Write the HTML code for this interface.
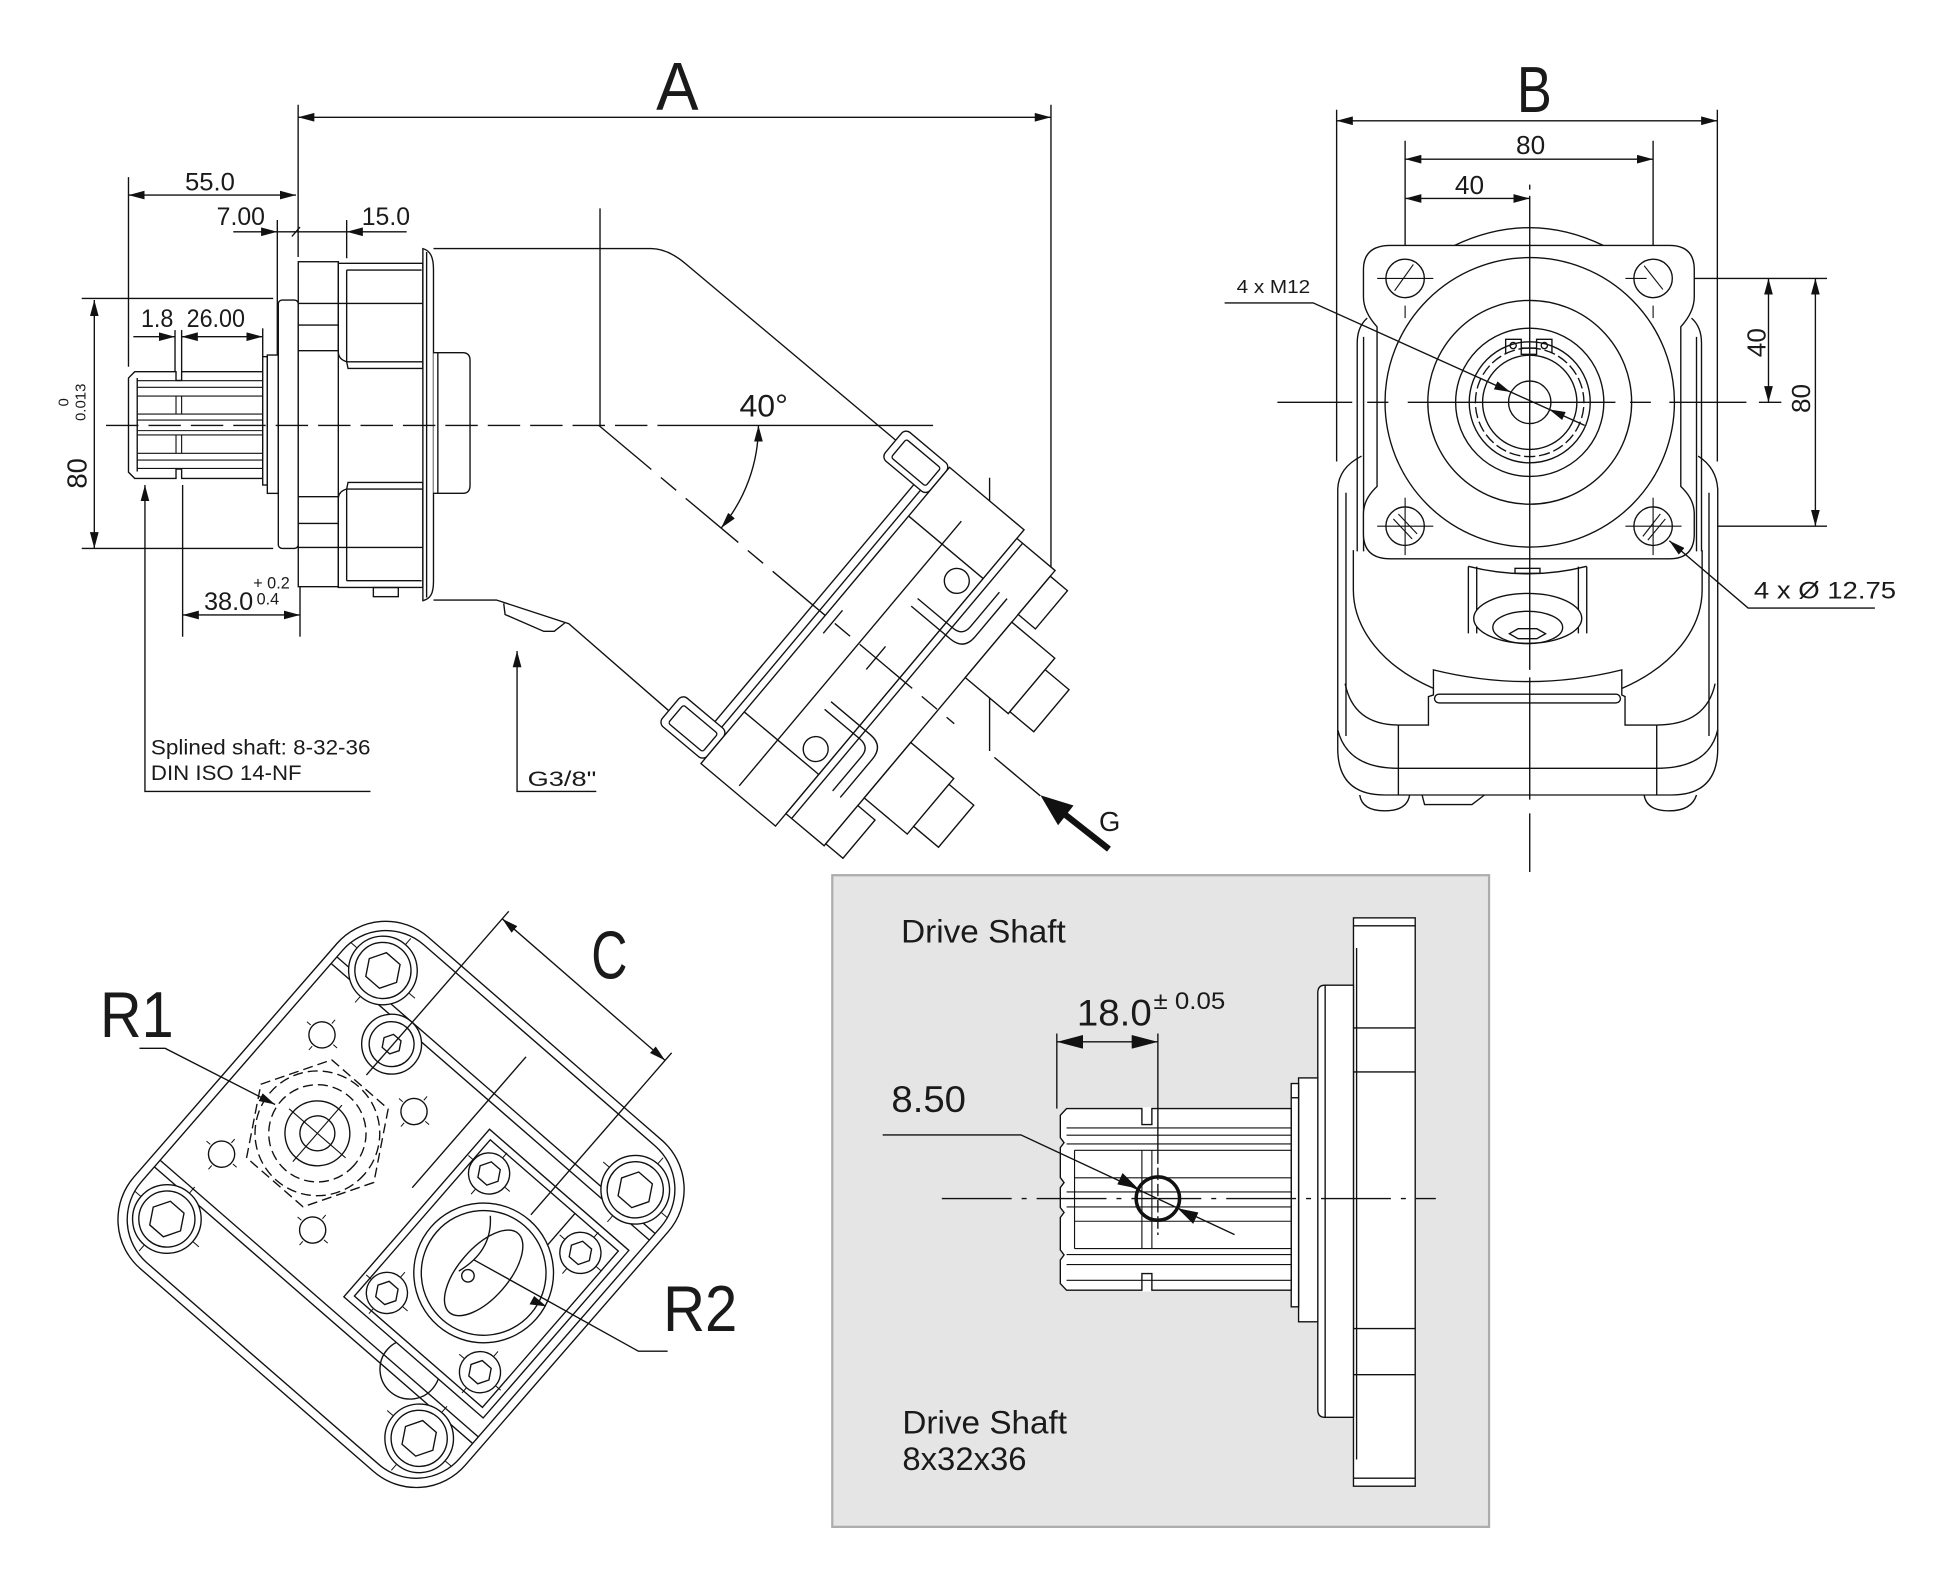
<!DOCTYPE html>
<html><head><meta charset="utf-8"><style>
html,body{margin:0;padding:0;background:#fff;}
svg{display:block}
text{font-family:"Liberation Sans",Arial,sans-serif;fill:#1a1a1a;stroke:none;}
</style></head><body>
<svg xmlns="http://www.w3.org/2000/svg" width="1946" height="1590" viewBox="0 0 1560 1274.6">
<defs>
<marker id="a" viewBox="0 0 13 7" refX="13" refY="3.5" markerWidth="13" markerHeight="7" markerUnits="userSpaceOnUse" orient="auto-start-reverse"><path d="M0,0 L13,3.5 L0,7z" fill="#111"/></marker>
<marker id="b" viewBox="0 0 21 11" refX="21" refY="5.5" markerWidth="21" markerHeight="11" markerUnits="userSpaceOnUse" orient="auto-start-reverse"><path d="M0,0 L21,5.5 L0,11z" fill="#111"/></marker>
</defs>
<rect x="0" y="0" width="1560" height="1274.6" fill="#fff"/>

<!-- ================= SIDE VIEW ================= -->
<g fill="none" stroke="#111" stroke-width="1.1">
<line x1="239" y1="94" x2="842.5" y2="94" marker-start="url(#a)" marker-end="url(#a)"/>
<line x1="239" y1="84" x2="239" y2="206"/>
<line x1="842.5" y1="84" x2="842.5" y2="457"/>
<line x1="103" y1="156.4" x2="237.3" y2="156.4" marker-start="url(#a)" marker-end="url(#a)"/>
<line x1="103" y1="142" x2="103" y2="294"/>
<line x1="187" y1="185.8" x2="222.3" y2="185.8" marker-end="url(#a)"/>
<line x1="222.3" y1="185.8" x2="277.9" y2="185.8"/>
<line x1="277.9" y1="185.8" x2="326" y2="185.8" marker-start="url(#a)"/>
<line x1="234" y1="189.5" x2="240.5" y2="182"/>
<line x1="222.3" y1="176.4" x2="222.3" y2="292.6"/>
<line x1="277.9" y1="176.4" x2="277.9" y2="207"/>
<line x1="106.9" y1="269.9" x2="140.3" y2="269.9" marker-end="url(#a)"/>
<line x1="145.6" y1="269.9" x2="210.6" y2="269.9" marker-start="url(#a)" marker-end="url(#a)"/>
<line x1="140.3" y1="264.6" x2="140.3" y2="299"/>
<line x1="145.6" y1="264.6" x2="145.6" y2="299"/>
<line x1="210.6" y1="263.2" x2="210.6" y2="286"/>
<line x1="75.6" y1="240.5" x2="75.6" y2="439.6" marker-start="url(#a)" marker-end="url(#a)"/>
<line x1="65.5" y1="239.2" x2="219" y2="239.2"/>
<line x1="65.5" y1="439.6" x2="219" y2="439.6"/>
<line x1="146.4" y1="493" x2="240.5" y2="493" marker-start="url(#a)" marker-end="url(#a)"/>
<line x1="146.4" y1="388.8" x2="146.4" y2="510.4"/>
<line x1="240.5" y1="454.3" x2="240.5" y2="510.4"/>
<path d="M116.2,388.8 L116.2,634.4 L297,634.4" marker-start="url(#a)"/>
<path d="M414.5,521.9 L414.5,634.4 L478,634.4" marker-start="url(#a)"/>

<path d="M108,298 L210.6,298 L210.6,383.5 L108,383.5 L103,378.5 L103,303 Z" fill="#fff"/>
<line x1="110" y1="303" x2="110" y2="378"/>
<g stroke-width="0.9">
<line x1="110" y1="305.2" x2="210.6" y2="305.2"/>
<line x1="110" y1="310.5" x2="210.6" y2="310.5"/>
<line x1="110" y1="317.5" x2="210.6" y2="317.5"/>
<line x1="110" y1="331.9" x2="210.6" y2="331.9"/>
<line x1="110" y1="336.7" x2="210.6" y2="336.7"/>
<line x1="110" y1="345.2" x2="210.6" y2="345.2"/>
<line x1="110" y1="348.7" x2="210.6" y2="348.7"/>
<line x1="110" y1="363.4" x2="210.6" y2="363.4"/>
<line x1="110" y1="368.8" x2="210.6" y2="368.8"/>
<line x1="110" y1="375.5" x2="210.6" y2="375.5"/>
<line x1="141.1" y1="317.5" x2="141.1" y2="331.9"/>
<line x1="145.6" y1="317.5" x2="145.6" y2="331.9"/>
<line x1="141.1" y1="348.7" x2="141.1" y2="363.4"/>
<line x1="145.6" y1="348.7" x2="145.6" y2="363.4"/>
</g>
<line x1="141.6" y1="298" x2="145.1" y2="298" stroke="#fff" stroke-width="2"/>
<path d="M141.1,298 L141.1,305 L145.6,305 L145.6,298"/>
<line x1="141.6" y1="383.5" x2="145.1" y2="383.5" stroke="#fff" stroke-width="2"/>
<path d="M141.1,383.5 L141.1,376 L145.6,376 L145.6,383.5"/>
<rect x="210.6" y="285.9" width="3.7" height="102.9" fill="#fff"/>
<rect x="214.3" y="284.6" width="8.8" height="110.9" fill="#fff"/>
<rect x="223.1" y="240.5" width="16" height="199.1" rx="3" fill="#fff"/>
<rect x="239.1" y="209.8" width="32.1" height="260.5" fill="#fff"/>
<line x1="239.1" y1="243.2" x2="339" y2="243.2"/>
<line x1="239.1" y1="260.6" x2="271.2" y2="260.6"/>
<line x1="239.1" y1="281.1" x2="271.2" y2="281.1"/>
<line x1="239.1" y1="398.2" x2="271.2" y2="398.2"/>
<line x1="239.1" y1="419.6" x2="271.2" y2="419.6"/>
<line x1="239.1" y1="438.8" x2="339" y2="438.8"/>
<path d="M271.2,211.1 L339,211.1 L339,295.3 L279,295.3 L277.9,290 Q271.2,288 271.2,282 Z"/>
<path d="M277.9,216.5 L338,216.5 M277.9,216.5 L277.9,290 L339,290"/>
<path d="M271.2,470.9 L339,470.9 L339,386.7 L279,386.7 L277.9,392 Q271.2,394 271.2,400 Z"/>
<path d="M277.9,465.5 L338,465.5 M277.9,465.5 L277.9,392 L339,392"/>
<rect x="299.3" y="471" width="20" height="7.3"/>
<path d="M339,199.3 C345,201 347.5,206 347.5,216 L347.5,466 C347.5,476 345,480 339,481.5 Z" fill="#fff"/>
<line x1="342" y1="202" x2="342" y2="479"/>
<path d="M347.5,282.7 L371,282.7 Q376.8,282.7 376.8,289 L376.8,389 Q376.8,395.5 371,395.5 L347.5,395.5" fill="#fff"/>
<line x1="351" y1="283" x2="351" y2="395"/>
<path d="M347.5,199.3 L522,199.3 Q535.2,199.3 549.6,211.4 L718.1,352.9"/>
<path d="M347.5,481 L398,481 L456,500 L536.1,569.7"/>
<path d="M403.8,483.7 L404.9,492.6 L435.9,506.1 L444.3,506.1 L452.7,499.4"/>
<line x1="481" y1="167" x2="481" y2="341"/>
<line x1="793.3" y1="383" x2="793.3" y2="602"/>

<g transform="translate(480,341) rotate(40)">
 <rect x="190" y="-156" width="47" height="30" rx="5" fill="#fff"/>
 <rect x="196" y="-150" width="36" height="19" rx="2"/>
 <rect x="190" y="122" width="47" height="30" rx="5" fill="#fff"/>
 <rect x="196" y="128" width="36" height="19" rx="2"/>
 <line x1="224" y1="-126" x2="224" y2="122"/>
 <line x1="231" y1="-126" x2="231" y2="122"/>
 <rect x="237" y="-155" width="78" height="310" fill="#fff"/>
 <line x1="237" y1="-104" x2="315" y2="-104"/>
 <line x1="237" y1="101" x2="315" y2="101"/>
 <line x1="272" y1="-128" x2="272" y2="149"/>
 <circle cx="300" cy="-89" r="10"/>
 <circle cx="300" cy="87" r="10"/>
 <rect x="315" y="-146" width="40" height="288" fill="#fff"/>
 <line x1="321" y1="-146" x2="321" y2="142"/>
 <rect x="355" y="-140" width="18" height="40" fill="#fff"/>
 <rect x="355" y="-92" width="45" height="58" fill="#fff"/>
 <rect x="400" y="-80" width="25" height="44" fill="#fff"/>
 <rect x="355" y="34" width="45" height="58" fill="#fff"/>
 <rect x="400" y="40" width="26" height="44" fill="#fff"/>
 <rect x="355" y="100" width="18" height="40" fill="#fff"/>
 <path d="M285,-58 L322,-58 Q332,-58 332,-68 L332,-104 M285,-50 L326,-50 Q340,-50 340,-64 L340,-104"/>
 <path d="M285,58 L322,58 Q332,58 332,68 L332,104 M285,50 L326,50 Q340,50 340,64 L340,104"/>
 <line x1="0" y1="0" x2="372" y2="0" stroke-dasharray="55 10 16 10"/>
 <line x1="414" y1="0" x2="462" y2="0"/>
 <line x1="245" y1="-12" x2="245" y2="12"/>
 <line x1="290" y1="-12" x2="290" y2="12"/>
</g>

<line x1="85" y1="341" x2="528" y2="341" stroke-dasharray="26 8"/>
<line x1="528" y1="341" x2="748" y2="341"/>
<path d="M608,341 A128,128 0 0 1 578.1,423.3" marker-start="url(#a)" marker-end="url(#a)"/>
</g>
<line x1="889" y1="680.7" x2="852" y2="651.6" stroke="#111" stroke-width="5"/>
<polygon points="834,637.5 860.6,645.7 848.2,661.5" fill="#111"/>

<text x="543" y="87.7" font-size="54" text-anchor="middle" textLength="34" lengthAdjust="spacingAndGlyphs">A</text>
<text x="148.3" y="152.9" font-size="20" textLength="40" lengthAdjust="spacingAndGlyphs">55.0</text>
<text x="173.7" y="180.4" font-size="20" textLength="38.7" lengthAdjust="spacingAndGlyphs">7.00</text>
<text x="290" y="180.4" font-size="20" textLength="38.7" lengthAdjust="spacingAndGlyphs">15.0</text>
<text x="113" y="262" font-size="20" textLength="26" lengthAdjust="spacingAndGlyphs">1.8</text>
<text x="149.6" y="262" font-size="20" textLength="46.8" lengthAdjust="spacingAndGlyphs">26.00</text>
<text transform="translate(69.5,379.5) rotate(-90)" font-size="22" text-anchor="middle">80</text>
<text transform="translate(68.5,322.5) rotate(-90)" font-size="12" text-anchor="middle">0.013</text>
<text transform="translate(55,322.5) rotate(-90)" font-size="12" text-anchor="middle">0</text>
<text x="163.5" y="489" font-size="20" textLength="39.5" lengthAdjust="spacingAndGlyphs">38.0</text>
<text x="203" y="471.6" font-size="13">+ 0.2</text>
<text x="205.7" y="484.5" font-size="13">0.4</text>
<text x="121" y="605" font-size="17" textLength="176" lengthAdjust="spacingAndGlyphs">Splined shaft: 8-32-36</text>
<text x="121" y="625.4" font-size="17" textLength="120.8" lengthAdjust="spacingAndGlyphs">DIN ISO 14-NF</text>
<text x="423" y="630" font-size="17" textLength="55" lengthAdjust="spacingAndGlyphs">G3/8"</text>
<text x="592.8" y="334" font-size="25" textLength="38.8" lengthAdjust="spacingAndGlyphs">40°</text>
<text x="881" y="666" font-size="22">G</text>

<!-- ================= B VIEW ================= -->
<g fill="none" stroke="#111" stroke-width="1.1">
<line x1="1071.5" y1="96.8" x2="1376.7" y2="96.8" marker-start="url(#a)" marker-end="url(#a)"/>
<line x1="1071.5" y1="88" x2="1071.5" y2="370"/>
<line x1="1376.7" y1="88" x2="1376.7" y2="370"/>
<line x1="1126.4" y1="127.6" x2="1325.2" y2="127.6" marker-start="url(#a)" marker-end="url(#a)"/>
<line x1="1126.4" y1="159.1" x2="1226.3" y2="159.1" marker-start="url(#a)" marker-end="url(#a)"/>
<line x1="1126.4" y1="112.8" x2="1126.4" y2="245.4"/>
<line x1="1325.2" y1="112.8" x2="1325.2" y2="245.4"/>
<line x1="1417.7" y1="223.2" x2="1417.7" y2="322.5" marker-start="url(#a)" marker-end="url(#a)"/>
<line x1="1455.3" y1="223.2" x2="1455.3" y2="421.8" marker-start="url(#a)" marker-end="url(#a)"/>
<line x1="1332" y1="223.2" x2="1464.6" y2="223.2"/>
<line x1="1332" y1="421.8" x2="1464.6" y2="421.8"/>
<line x1="1410" y1="322.5" x2="1428" y2="322.5"/>

<path d="M1091.5,365.6 Q1073,375 1072.4,392 L1072.4,600 Q1072.4,637.3 1110,637.3 L1340,637.3 Q1377,637.3 1377,600 L1377,392 Q1376,375 1361.3,365.6" fill="#fff"/>
<line x1="1079" y1="395" x2="1079" y2="590"/>
<line x1="1370" y1="395" x2="1370" y2="590"/>
<path d="M1072.4,585 Q1080,615.9 1121,615.9 L1328,615.9 Q1370,615.9 1377,585"/>
<line x1="1121" y1="581.2" x2="1121" y2="637.3"/>
<line x1="1328.1" y1="581.2" x2="1328.1" y2="637.3"/>
<path d="M1078.3,548 Q1085,581 1121,581.2 L1145.1,581.2 L1145.1,558.4 L1149.1,557.1 L1149.1,537 Q1224.7,555.8 1300.1,537 L1300.1,557.1 L1302.7,558.4 L1302.7,581.2 L1328.1,581.2 Q1368,581 1374.9,548"/>
<rect x="1150" y="556.5" width="149" height="7" rx="3.5"/>
<path d="M1084.9,441 L1084.9,473 A140,94 0 0 0 1149.1,551.8"/>
<path d="M1364.5,441 L1364.5,473 A140,94 0 0 1 1300.3,551.8"/>
<path d="M1090,637.3 Q1092,650 1110,650 Q1128,650 1130,637.3"/>
<path d="M1318,637.3 Q1320,650 1338,650 Q1356,650 1360,637.3"/>
<path d="M1140,637.3 L1142,645 L1180,645 L1190,637.3"/>
<path d="M1177.1,454.2 L1177.1,507.7 M1183.8,454.2 L1183.8,507.7 M1265.3,454.2 L1265.3,507.7 M1272,454.2 L1272,507.7"/>
<path d="M1177,454 Q1224.7,466 1272,454"/>
<ellipse cx="1224.7" cy="495.7" rx="43.3" ry="20" fill="#fff"/>
<ellipse cx="1224.7" cy="503" rx="28" ry="13"/>
<polygon points="1210,508 1217,504 1232,504 1239,508 1232,512 1217,512"/>
<rect x="1214.5" y="455.6" width="20" height="4"/>
<path d="M1096,255 Q1088,262 1088,275 L1088,442 M1093.1,270 L1093.1,442"/>
<path d="M1356,255 Q1364,262 1364,275 L1364,442 M1360,270 L1360,442"/>
<path d="M1165.5,197 Q1226.3,168 1285.8,197" fill="#fff"/>
<path d="M1114.7,196.7 L1338.2,196.7 Q1358.2,196.7 1358.2,216 L1358.2,238 Q1358.2,250 1347.4,262 L1347.4,390 Q1358.2,400 1358.2,412 L1358.2,428 Q1358.2,448 1338.2,448 L1114.7,448 Q1093,448 1093,428 L1093,412 Q1093,400 1103.9,390 L1103.9,262 Q1093,250 1093,238 L1093,216 Q1093,196.7 1114.7,196.7 Z" fill="#fff"/>
<circle cx="1226.3" cy="322.5" r="116"/>
<circle cx="1226.3" cy="322.5" r="81.7"/>
<circle cx="1226.3" cy="322.5" r="59.4"/>
<circle cx="1226.3" cy="322.5" r="48.5"/>
<path d="M1226.3,279 m0,0 a43.5,43.5 0 1 1 -0.1,0" stroke-dasharray="9 3"/>
<circle cx="1226.3" cy="322.5" r="37.8"/>
<circle cx="1226.3" cy="322.5" r="17"/>
<path d="M1207,283 L1207,272 L1219.5,272 L1219.5,280 M1231.8,280 L1231.8,272 L1244.1,272 L1244.1,283 M1219.5,279 L1231.8,279 L1231.8,284 L1219.5,284Z"/>
<circle cx="1213" cy="277" r="2.5"/>
<circle cx="1238" cy="277" r="2.5"/>
<circle cx="1126.4" cy="223.2" r="15.4"/>
<circle cx="1325.2" cy="223.2" r="15.4"/>
<circle cx="1126.4" cy="421.8" r="15.4"/>
<circle cx="1325.2" cy="421.8" r="15.4"/>
<g stroke-width="0.9">
<line x1="1104" y1="223.2" x2="1149" y2="223.2"/><line x1="1126.4" y1="245" x2="1126.4" y2="255"/>
<line x1="1303" y1="223.2" x2="1320" y2="223.2"/><line x1="1325.2" y1="245" x2="1325.2" y2="255"/>
<line x1="1104" y1="421.8" x2="1149" y2="421.8"/><line x1="1126.4" y1="399" x2="1126.4" y2="445"/>
<line x1="1303" y1="421.8" x2="1348" y2="421.8"/><line x1="1325.2" y1="399" x2="1325.2" y2="445"/>
<line x1="1118" y1="233" x2="1133" y2="212"/>
<line x1="1318" y1="213" x2="1333" y2="232"/>
<line x1="1117" y1="416" x2="1132" y2="432"/><line x1="1121" y1="412" x2="1136" y2="428"/>
<line x1="1317" y1="430" x2="1331" y2="412"/><line x1="1321" y1="433" x2="1335" y2="416"/>
</g>
<path d="M1226.3,148 L1226.3,152 M1226.3,157 L1226.3,537 M1226.3,543 L1226.3,641 M1226.3,652 L1226.3,699"/>
<path d="M1024,322.5 L1084,322.5 M1096,322.5 L1113,322.5 M1128.5,322.5 L1295,322.5 M1306.7,322.5 L1323.4,322.5 M1338.2,322.5 L1400,322.5"/>
<path d="M981.7,242.8 L1052.7,242.8 L1270.3,341"/>
<path d="M1503,487.4 L1401.4,487.4 L1338.2,433.5" marker-end="url(#a)"/>
</g>
<polygon points="1210.8,314.2 1197.6,312.1 1200.4,305.7" fill="#111"/>
<polygon points="1241.8,328.2 1255.1,330.3 1252.3,336.7" fill="#111"/>
<text x="1230" y="89.7" font-size="52" text-anchor="middle" textLength="28" lengthAdjust="spacingAndGlyphs">B</text>
<text x="1227" y="123.6" font-size="21" text-anchor="middle">80</text>
<text x="1178" y="155.4" font-size="21" text-anchor="middle">40</text>
<text transform="translate(1415.5,274.7) rotate(-90)" font-size="21" text-anchor="middle">40</text>
<text transform="translate(1451,319.4) rotate(-90)" font-size="21" text-anchor="middle">80</text>
<text x="991.3" y="234.7" font-size="15" textLength="59" lengthAdjust="spacingAndGlyphs">4 x M12</text>
<text x="1406" y="479.7" font-size="19" textLength="114" lengthAdjust="spacingAndGlyphs">4 x  Ø 12.75</text>

<!-- ================= C VIEW ================= -->
<g fill="none" stroke="#111" stroke-width="1.1">
<g transform="translate(321.5,965.5) rotate(41)">
 <rect x="-176" y="-176" width="352" height="352" rx="52" fill="#fff"/>
 <rect x="-169" y="-169" width="338" height="338" rx="46"/>
 <line x1="-169" y1="-116" x2="169" y2="-116"/>
 <line x1="-169" y1="-109" x2="169" y2="-109"/>
 <line x1="-169" y1="100" x2="169" y2="100"/>
 <line x1="-169" y1="107" x2="169" y2="107"/>
 <line x1="-2" y1="-155" x2="-2" y2="-16"/>
 <circle cx="92" cy="95" r="24"/>
 <rect x="14" y="-92" width="148" height="178" fill="#fff"/>
 <rect x="20" y="-86" width="136" height="166"/>
 <line x1="110" y1="-86" x2="110" y2="-30"/>
 <circle cx="86" cy="-2" r="56" fill="#fff"/>
 <circle cx="86" cy="-2" r="50"/>
 <ellipse cx="86" cy="-2" rx="20" ry="42"/>
 <circle cx="78" cy="8" r="5"/>
 <path d="M60,-40 Q80,-20 70,10"/>
 <g transform="translate(37,-65)"><circle r="16.5" fill="#fff"/><polygon points="9.5,0 4.75,8.2 -4.75,8.2 -9.5,0 -4.75,-8.2 4.75,-8.2"/><path d="M-22,0 H-17 M17,0 H22 M0,-22 V-17 M0,17 V22" stroke-width="0.8"/></g>
 <g transform="translate(134,-65)"><circle r="16.5" fill="#fff"/><polygon points="9.5,0 4.75,8.2 -4.75,8.2 -9.5,0 -4.75,-8.2 4.75,-8.2"/><path d="M-22,0 H-17 M17,0 H22 M0,-22 V-17 M0,17 V22" stroke-width="0.8"/></g>
 <g transform="translate(38,61)"><circle r="16.5" fill="#fff"/><polygon points="9.5,0 4.75,8.2 -4.75,8.2 -9.5,0 -4.75,-8.2 4.75,-8.2"/><path d="M-22,0 H-17 M17,0 H22 M0,-22 V-17 M0,17 V22" stroke-width="0.8"/></g>
 <g transform="translate(136,60)"><circle r="16.5" fill="#fff"/><polygon points="9.5,0 4.75,8.2 -4.75,8.2 -9.5,0 -4.75,-8.2 4.75,-8.2"/><path d="M-22,0 H-17 M17,0 H22 M0,-22 V-17 M0,17 V22" stroke-width="0.8"/></g>
 <g stroke-dasharray="8 4">
  <circle cx="-88" cy="1" r="39"/>
  <circle cx="-88" cy="1" r="50"/>
  <polygon points="-28,1 -58,53 -118,53 -148,1 -118,-51 -58,-51"/>
 </g>
 <circle cx="-88" cy="1" r="26"/>
 <circle cx="-88" cy="1" r="14"/>
 <path d="M-118,1 H-58 M-88,-29 V31" stroke-width="0.9"/>
 <g transform="translate(-137,-61)"><circle r="10.5"/><path d="M-16,0 H-12 M12,0 H16 M0,-16 V-12 M0,12 V16" stroke-width="0.8"/></g>
 <g transform="translate(-41,-63)"><circle r="10.5"/><path d="M-16,0 H-12 M12,0 H16 M0,-16 V-12 M0,12 V16" stroke-width="0.8"/></g>
 <g transform="translate(-135,64)"><circle r="10.5"/><path d="M-16,0 H-12 M12,0 H16 M0,-16 V-12 M0,12 V16" stroke-width="0.8"/></g>
 <g transform="translate(-40,62)"><circle r="10.5"/><path d="M-16,0 H-12 M12,0 H16 M0,-16 V-12 M0,12 V16" stroke-width="0.8"/></g>
 <g transform="translate(-90,-92)"><circle r="24" fill="#fff"/><circle r="18"/><polygon points="8,0 4,6.9 -4,6.9 -8,0 -4,-6.9 4,-6.9"/></g>
 <g transform="translate(-134,-132)"><circle r="27.5" fill="#fff"/><circle r="22.5"/><polygon points="14.5,0 7.25,12.6 -7.25,12.6 -14.5,0 -7.25,-12.6 7.25,-12.6"/><path d="M-34,0 H-28 M28,0 H34 M0,-34 V-28 M0,28 V34" stroke-width="0.8"/></g>
 <g transform="translate(134,-132)"><circle r="27.5" fill="#fff"/><circle r="22.5"/><polygon points="14.5,0 7.25,12.6 -7.25,12.6 -14.5,0 -7.25,-12.6 7.25,-12.6"/><path d="M-34,0 H-28 M28,0 H34 M0,-34 V-28 M0,28 V34" stroke-width="0.8"/></g>
 <g transform="translate(134,132)"><circle r="27.5" fill="#fff"/><circle r="22.5"/><polygon points="14.5,0 7.25,12.6 -7.25,12.6 -14.5,0 -7.25,-12.6 7.25,-12.6"/><path d="M-34,0 H-28 M28,0 H34 M0,-34 V-28 M0,28 V34" stroke-width="0.8"/></g>
 <g transform="translate(-134,132)"><circle r="27.5" fill="#fff"/><circle r="22.5"/><polygon points="14.5,0 7.25,12.6 -7.25,12.6 -14.5,0 -7.25,-12.6 7.25,-12.6"/><path d="M-34,0 H-28 M28,0 H34 M0,-34 V-28 M0,28 V34" stroke-width="0.8"/></g>
 <line x1="-89" y1="-226" x2="84" y2="-226" marker-start="url(#a)" marker-end="url(#a)"/>
 <line x1="-89" y1="-234" x2="-89" y2="-60"/>
 <line x1="84" y1="-234" x2="84" y2="-62"/>
</g>
<path d="M111.8,840.4 L132.4,840.4 L220.5,885.4" marker-end="url(#a)"/>
<path d="M535.2,1083.2 L511.8,1083.2 L380,1010"/>
</g>
<polygon points="438,1047.2 424.5,1045.6 428.2,1038.9" fill="#111"/>
<text x="474" y="784.6" font-size="54" textLength="29" lengthAdjust="spacingAndGlyphs">C</text>
<text x="80.2" y="831.4" font-size="52" textLength="59" lengthAdjust="spacingAndGlyphs">R1</text>
<text x="531.6" y="1067" font-size="52" textLength="59.5" lengthAdjust="spacingAndGlyphs">R2</text>

<!-- ================= GREY BOX ================= -->
<rect x="667.2" y="701.6" width="526.5" height="522.4" fill="#e5e5e5" stroke="#adadad" stroke-width="1.8"/>
<g fill="none" stroke="#111" stroke-width="1.1">
<rect x="1085" y="735.8" width="49.5" height="455.6" fill="#fff"/>
<line x1="1085" y1="742.2" x2="1134.5" y2="742.2"/>
<line x1="1085" y1="824" x2="1134.5" y2="824"/>
<line x1="1085" y1="859.3" x2="1134.5" y2="859.3"/>
<line x1="1085" y1="1065" x2="1134.5" y2="1065"/>
<line x1="1085" y1="1102" x2="1134.5" y2="1102"/>
<line x1="1085" y1="1185" x2="1134.5" y2="1185"/>
<line x1="1087.5" y1="760" x2="1087.5" y2="1170"/>
<path d="M1085,789.8 L1062,789.8 Q1056.4,789.8 1056.4,796 L1056.4,1130 Q1056.4,1136.2 1062,1136.2 L1085,1136.2 Z" fill="#fff"/>
<line x1="1062.3" y1="790" x2="1062.3" y2="1136"/>
<rect x="1041" y="864.1" width="15.4" height="195.5" fill="#fff"/>
<rect x="1035.1" y="868.6" width="5.9" height="179" fill="#fff"/>
<line x1="1035.1" y1="880" x2="1041" y2="880"/>
<path d="M855,888.7 L1035.1,888.7 L1035.1,1034.3 L855,1034.3 L850,1029 L850,1010 L853,1006 L850,1002 L850,976 L853,972 L850,968 L850,952 L853,948 L850,944 L850,920 L853,916 L850,912 L850,894 Z" fill="#fff"/>
<g stroke-width="0.9">
<line x1="855" y1="904.2" x2="1035.1" y2="904.2"/>
<line x1="855" y1="910" x2="1035.1" y2="910"/>
<line x1="855" y1="917" x2="1035.1" y2="917"/>
<line x1="861.4" y1="922.1" x2="1035.1" y2="922.1"/>
<line x1="861.4" y1="944.2" x2="1035.1" y2="944.2"/>
<line x1="855" y1="955.5" x2="1035.1" y2="955.5"/>
<line x1="855" y1="967.5" x2="1035.1" y2="967.5"/>
<line x1="861.4" y1="979" x2="1035.1" y2="979"/>
<line x1="861.4" y1="1000.9" x2="1035.1" y2="1000.9"/>
<line x1="855" y1="1005.7" x2="1035.1" y2="1005.7"/>
<line x1="855" y1="1013.7" x2="1035.1" y2="1013.7"/>
<line x1="855" y1="1026.3" x2="1035.1" y2="1026.3"/>
<line x1="861.4" y1="922.1" x2="861.4" y2="1000.9"/>
<line x1="915.4" y1="922.1" x2="915.4" y2="1000.9"/>
<line x1="923.4" y1="922.1" x2="923.4" y2="1000.9"/>
</g>
<line x1="915.9" y1="888.7" x2="922.9" y2="888.7" stroke="#fff" stroke-width="2"/>
<path d="M915.4,888.7 L915.4,901.5 L923.4,901.5 L923.4,888.7"/>
<line x1="915.9" y1="1034.3" x2="922.9" y2="1034.3" stroke="#fff" stroke-width="2"/>
<path d="M915.4,1034.3 L915.4,1020.9 L923.4,1020.9 L923.4,1034.3"/>
<line x1="755" y1="960.8" x2="1151" y2="960.8" stroke-dasharray="56 8 4 8"/>
<line x1="847.2" y1="835.2" x2="928.2" y2="835.2" marker-start="url(#b)" marker-end="url(#b)"/>
<line x1="847.2" y1="828.5" x2="847.2" y2="888.7"/>
<line x1="928.2" y1="828.5" x2="928.2" y2="923"/>
<line x1="928.2" y1="923" x2="928.2" y2="990" stroke-dasharray="10 3"/>
<path d="M707.6,909.8 L818.4,909.8 L989.7,989.7"/>
<circle cx="928.2" cy="960.8" r="17.4" stroke-width="2.8"/>
</g>
<polygon points="912.4,952.8 895.7,949.4 899.9,940.3" fill="#111"/>
<polygon points="944,968.6 960.7,972 956.5,981.1" fill="#111"/>
<text x="722.4" y="755.5" font-size="26" textLength="132" lengthAdjust="spacingAndGlyphs">Drive Shaft</text>
<text x="863.3" y="821.9" font-size="30" textLength="60" lengthAdjust="spacingAndGlyphs">18.0</text>
<text x="924.7" y="809" font-size="19" textLength="57.5" lengthAdjust="spacingAndGlyphs">± 0.05</text>
<text x="714.6" y="891.5" font-size="30" textLength="59.8" lengthAdjust="spacingAndGlyphs">8.50</text>
<text x="723.4" y="1149.2" font-size="26" textLength="132" lengthAdjust="spacingAndGlyphs">Drive Shaft</text>
<text x="723.4" y="1178.4" font-size="26" textLength="99.5" lengthAdjust="spacingAndGlyphs">8x32x36</text>
</svg>
</body></html>
